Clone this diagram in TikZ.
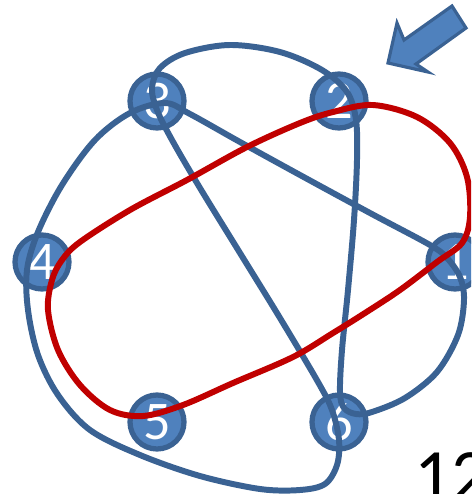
\documentclass[tikz,border=0pt]{standalone}
\usepackage{fontspec}
\setmainfont{Carlito}
\usetikzlibrary{positioning}
\definecolor{mBlue}{HTML}{4F81BD}
\definecolor{mEdge}{HTML}{3A6293}
\definecolor{mRed}{HTML}{C00000}

\begin{document}
\begin{tikzpicture}[
  x=0.02cm, y=-0.02cm,
  knot/.style={circle, draw=mEdge, fill=mBlue, line width=3pt,
               minimum size=1.08cm, inner sep=0pt, text=white,
               font=\fontsize{31}{31}\selectfont},
  strand/.style={draw=mEdge, line width=3.4pt},
  loop/.style={draw=mRed, line width=3.4pt},
]
  \path[use as bounding box, clip] (0,0) rectangle (471,494);

  % the six points
  \node[knot] (n1) at (455,262) {1};
  \node[knot] (n2) at (339,101) {2};
  \node[knot] (n3) at (157,101) {3};
  \node[knot] (n4) at (42,262) {4};
  \node[knot] (n5) at (157,422) {5};
  \node[knot] (n6) at (339,422) {6};

  % blue closed strand
  \draw[strand] plot[smooth cycle, tension=0.55] coordinates {
    (165,103) (130,113) (95,140) (62,185) (38,232) (27,270) (28,310)
    (38,355) (58,395) (90,430) (140,455) (200,476) (260,489) (300,490)
    (325,484) (337,465) (339,440) (332,410) (318,382) (280,318)
    (240,253) (200,188) (172,140) (157,110) (152,88) (160,68) (185,53)
    (230,45) (280,52) (322,70) (347,92) (356,120) (357,160) (354,220)
    (348,290) (342,350) (340,392) (344,408) (356,414) (372,412)
    (405,398) (437,372) (458,335) (464,300) (460,277) (447,258)
    (430,245) (370,213) (300,175) (240,142) (190,114)};

  % red closed loop
  \draw[loop] plot[smooth cycle, tension=0.55] coordinates {
    (80,242) (130,210) (187,180) (247,147) (300,123) (333,112)
    (373,105) (417,117) (450,143) (467,177) (470,217) (462,243)
    (437,262) (400,290) (365,313) (333,333) (293,357) (233,383)
    (183,405) (143,416) (110,410) (80,385) (58,350) (48,310)
    (52,280) (62,260)};

  % pointer
  \draw[mEdge, fill=mBlue, line width=1.8pt, line join=miter]
    (388,63) -- (397,23) -- (404,40) -- (452,6) -- (466,28)
    -- (416,64) -- (428,72) -- cycle;

  \node[anchor=base west, inner sep=0pt, font=\fontsize{42}{42}\selectfont]
    (lbl) at (414,500) {12};
\end{tikzpicture}
\end{document}
